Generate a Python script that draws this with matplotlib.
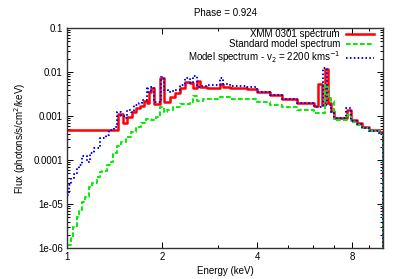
import matplotlib
matplotlib.use("Agg")
import matplotlib.pyplot as plt
from matplotlib.ticker import FixedLocator, NullFormatter

plt.rcParams['font.family'] = ['Liberation Sans', 'DejaVu Sans']

# bin edges (keV) and flux per bin (photons/s/cm^2/keV)
xmm_edges = [1.0, 1.449, 1.502, 1.547, 1.604, 1.652, 1.700, 1.751, 1.789, 1.815,
             1.842, 1.882, 1.967, 2.025, 2.114, 2.193, 2.274, 2.358, 2.445, 2.50,
             2.574, 2.63, 2.768, 3.042, 3.109, 3.271, 3.702, 3.981, 4.375, 4.774,
             5.363, 6.07, 6.25, 6.39, 6.57, 6.72, 6.87, 7.02, 7.71, 7.94,
             8.30, 8.60, 9.05, 9.73, 10.0]
xmm_flux = [4.8e-4, 1.11e-3, 7.1e-4, 9.7e-4, 1.26e-3, 1.5e-3, 1.69e-3, 2.23e-3, 1.95e-3,
            3.5e-3, 4.3e-3, 1.87e-3, 7.3e-3, 2.1e-3, 2.75e-3, 3.3e-3, 4.3e-3, 6.0e-3,
            5.5e-3, 4.3e-3, 6.2e-3, 4.5e-3, 4.4e-3, 5.3e-3, 4.6e-3, 4.4e-3, 4.1e-3,
            3.6e-3, 3.0e-3, 2.45e-3, 2.0e-3, 1.65e-3, 5.3e-3, 1.8e-3, 1.2e-2, 2.0e-3,
            1.3e-3, 9.0e-4, 1.35e-3, 8.1e-4, 6.9e-4, 5.6e-4, 4.8e-4, 4.3e-4]

std_edges = [1.0, 1.030, 1.045, 1.075, 1.091, 1.115, 1.140, 1.173, 1.199, 1.244,
             1.271, 1.290, 1.338, 1.377, 1.397, 1.438, 1.481, 1.536, 1.592, 1.652,
             1.713, 1.776, 1.842, 1.910, 1.967, 2.025, 2.069, 2.161, 2.274, 2.445,
             2.50, 2.574, 2.689, 3.042, 3.271, 3.981, 4.375, 4.774, 5.363, 6.07,
             6.57, 6.72, 6.87, 7.02, 7.71, 7.94, 8.30, 8.60, 9.05, 9.73, 10.0]
std_flux = [1.17e-6, 1.78e-6, 3.0e-6, 5.07e-6, 7.3e-6, 1.11e-5, 1.44e-5, 2.43e-5, 3.0e-5,
            4.11e-5, 5.3e-5, 5.6e-5, 7.7e-5, 9.0e-5, 1.44e-4, 2.08e-4, 2.57e-4, 3.33e-4,
            4.3e-4, 5.6e-4, 6.9e-4, 8.55e-4, 8.1e-4, 9.5e-4, 1.6e-3, 1.23e-3, 1.37e-3,
            1.6e-3, 1.87e-3, 2.08e-3, 2.85e-3, 2.19e-3, 2.43e-3, 2.7e-3, 2.43e-3, 2.08e-3,
            1.78e-3, 1.6e-3, 1.37e-3, 1.2e-3, 5.07e-3, 2.57e-3, 2.2e-3, 8.1e-4, 1.05e-3,
            7.3e-4, 6.2e-4, 5.3e-4, 4.6e-4, 4.1e-4]

mod_edges = [1.0, 1.015, 1.030, 1.052, 1.075, 1.091, 1.115, 1.157, 1.182, 1.217,
             1.271, 1.328, 1.357, 1.408, 1.438, 1.481, 1.513, 1.547, 1.592, 1.628,
             1.688, 1.725, 1.789, 1.802, 1.842, 1.882, 1.981, 2.025, 2.084, 2.161,
             2.274, 2.358, 2.445, 2.50, 2.574, 2.63, 2.768, 3.042, 3.109, 3.271,
             3.702, 3.981, 4.375, 4.774, 5.363, 6.07, 6.48, 6.67, 6.87, 7.02,
             7.65, 7.94, 8.30, 8.60, 9.05, 9.73, 10.0]
mod_flux = [1.6e-5, 2.7e-5, 3.9e-5, 4.8e-5, 6.3e-5, 7.8e-5, 1.23e-4, 9.0e-5, 1.45e-4,
            1.87e-4, 3.16e-4, 3.7e-4, 4.8e-4, 5.6e-4, 1.23e-3, 1.0e-3, 9.0e-4, 1.37e-3,
            1.23e-3, 1.78e-3, 1.97e-3, 2.31e-3, 4.56e-3, 3.5e-3, 4.56e-3, 2.08e-3, 7.7e-3,
            3.9e-3, 3.5e-3, 3.9e-3, 5.07e-3, 7.3e-3, 5.5e-3, 8.2e-3, 4.56e-3, 4.8e-3,
            5.07e-3, 7.3e-3, 5.3e-3, 4.8e-3, 4.56e-3, 3.6e-3, 3.0e-3, 2.45e-3, 2.0e-3,
            1.6e-3, 1.23e-2, 1.8e-3, 1.2e-3, 9.0e-4, 1.5e-3, 7.7e-4, 6.5e-4, 5.3e-4,
            4.6e-4, 4.1e-4]

fig = plt.figure(figsize=(4.0, 2.79), dpi=100)
ax = fig.add_axes([0.1675, 0.111, 0.79, 0.7886])


def stepped(edges, flux):
    # last point drops to the floor at the final edge
    return edges, list(flux) + [1e-9]


x, y = stepped(xmm_edges, xmm_flux)
ax.step(x, y, where='post', color='#ff0000', lw=1.8, label='XMM 0301 spectrum')
x, y = stepped(std_edges, std_flux)
ax.step(x, y, where='post', color='#00f000', lw=1.4, dashes=(2.4, 1.2),
        label='Standard model spectrum')
x, y = stepped(mod_edges, mod_flux)
ax.step(x, y, where='post', color='#0000ff', lw=1.4, dashes=(0.8, 1.2),
        label='Model spectrum - v$_2$ = 2200 kms$^{-1}$')

ax.set_xscale('log')
ax.set_yscale('log')
ax.set_xlim(1, 10)
ax.set_ylim(1e-6, 0.1)

ax.xaxis.set_major_locator(FixedLocator([1, 2, 4, 8]))
ax.set_xticklabels(['1', '2', '4', '8'])
ax.xaxis.set_minor_locator(FixedLocator([3, 5, 6, 7, 9]))
ax.xaxis.set_minor_formatter(NullFormatter())
ax.set_yticks([1e-6, 1e-5, 1e-4, 1e-3, 1e-2, 1e-1])
ax.set_yticklabels(['1e-06', '1e-05', '0.0001', '0.001', '0.01', '0.1'])
ax.yaxis.set_minor_locator(FixedLocator([m * 10.0 ** e for e in range(-6, -1) for m in range(2, 10)]))
ax.yaxis.set_minor_formatter(NullFormatter())

ax.tick_params(which='both', direction='in', top=True, right=True, labelsize=7, pad=3,
               colors='black')
ax.tick_params(which='major', length=4, width=0.7)
ax.tick_params(which='minor', length=2, width=0.7)
for spine in ax.spines.values():
    spine.set_color('#333333')
    spine.set_linewidth(1.0)

ax.set_xlabel('Energy (keV)', fontsize=7, labelpad=3)
ax.set_ylabel('Flux (photons/s/cm$^2$/keV)', fontsize=7, labelpad=4)
ax.set_title('Phase = 0.924', fontsize=7, pad=9)

ax.legend(loc='upper right', frameon=False, markerfirst=False, fontsize=7,
          handlelength=2.9, handletextpad=0.6, labelspacing=0.0,
          borderaxespad=0.2, bbox_to_anchor=(0.99, 1.02))

fig.savefig('out.png', dpi=100)
